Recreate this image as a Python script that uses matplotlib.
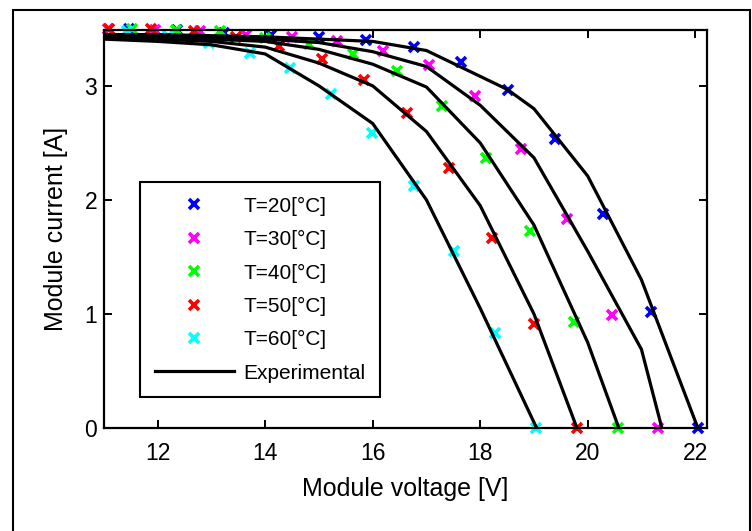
import matplotlib
matplotlib.use("Agg")
import matplotlib.pyplot as plt
from matplotlib.patches import Rectangle

plt.rcParams['font.family'] = ['Liberation Sans', 'DejaVu Sans']

# Experimental curves (voltage [V], current [A])
exp_T20_v = [11.0, 12.0, 13.0, 14.0, 15.0, 16.0, 17.0, 18.5, 19.0, 20.0, 21.0, 22.05]
exp_T20_i = [3.45, 3.45, 3.44, 3.43, 3.41, 3.39, 3.31, 2.97, 2.80, 2.21, 1.30, 0.0]
exp_T30_v = [11.0, 12.0, 13.0, 14.0, 15.0, 16.0, 17.0, 18.0, 19.0, 20.0, 21.0, 21.38]
exp_T30_i = [3.44, 3.44, 3.43, 3.41, 3.38, 3.30, 3.17, 2.83, 2.37, 1.55, 0.69, 0.0]
exp_T40_v = [11.0, 12.0, 13.0, 14.0, 15.0, 16.0, 17.0, 18.0, 19.0, 20.0, 20.58]
exp_T40_i = [3.43, 3.42, 3.41, 3.39, 3.32, 3.19, 2.99, 2.50, 1.78, 0.75, 0.0]
exp_T50_v = [11.0, 12.0, 13.0, 14.0, 15.0, 16.0, 17.0, 18.0, 19.0, 19.8]
exp_T50_i = [3.42, 3.41, 3.39, 3.34, 3.20, 3.00, 2.60, 1.95, 1.00, 0.0]
exp_T60_v = [11.0, 12.0, 13.0, 14.0, 15.0, 16.0, 17.0, 18.0, 19.05]
exp_T60_i = [3.41, 3.39, 3.36, 3.28, 3.00, 2.67, 2.00, 1.05, 0.0]

# Model points
sim_T20_v = [11.47, 12.35, 13.23, 14.11, 15.00, 15.88, 16.76, 17.64, 18.52, 19.40, 20.29, 21.17, 22.05]
sim_T20_i = [3.50, 3.49, 3.46, 3.45, 3.43, 3.40, 3.34, 3.21, 2.96, 2.53, 1.88, 1.02, 0.0]
sim_T30_v = [11.08, 11.94, 12.79, 13.64, 14.49, 15.34, 16.20, 17.05, 17.90, 18.75, 19.61, 20.46, 21.31]
sim_T30_i = [3.50, 3.49, 3.48, 3.45, 3.43, 3.39, 3.31, 3.18, 2.91, 2.45, 1.83, 0.99, 0.0]
sim_T40_v = [11.52, 12.34, 13.16, 13.99, 14.81, 15.63, 16.46, 17.28, 18.10, 18.92, 19.75, 20.57]
sim_T40_i = [3.50, 3.49, 3.48, 3.42, 3.37, 3.28, 3.13, 2.82, 2.37, 1.73, 0.93, 0.0]
sim_T50_v = [11.09, 11.88, 12.67, 13.46, 14.26, 15.05, 15.84, 16.63, 17.42, 18.22, 19.01, 19.80]
sim_T50_i = [3.50, 3.50, 3.48, 3.43, 3.35, 3.24, 3.05, 2.76, 2.28, 1.67, 0.91, 0.0]
sim_T60_v = [11.43, 12.19, 12.95, 13.71, 14.47, 15.23, 15.99, 16.76, 17.52, 18.28, 19.04]
sim_T60_i = [3.48, 3.44, 3.38, 3.29, 3.16, 2.93, 2.59, 2.12, 1.55, 0.83, 0.0]

labels = ['T=20[°C]', 'T=30[°C]', 'T=40[°C]', 'T=50[°C]', 'T=60[°C]']
colors = ['#0000ff', '#ff00ff', '#00ff00', '#ff0000', '#00ffff']
xticks = [12, 14, 16, 18, 20, 22]
yticks = [0, 1, 2, 3]

sims = [(sim_T20_v, sim_T20_i), (sim_T30_v, sim_T30_i), (sim_T40_v, sim_T40_i),
        (sim_T50_v, sim_T50_i), (sim_T60_v, sim_T60_i)]
exps = [(exp_T20_v, exp_T20_i), (exp_T30_v, exp_T30_i), (exp_T40_v, exp_T40_i),
        (exp_T50_v, exp_T50_i), (exp_T60_v, exp_T60_i)]

fig = plt.figure(figsize=(7.52, 5.31), dpi=100)
ax = fig.add_axes([104/752, 1-428/531, (707-104)/752, (428-30)/531])

handles = []
for (v, i), c, lab in zip(sims, colors, labels):
    h, = ax.plot(v, i, linestyle='none', marker='x', color=c, markersize=7,
                 markeredgewidth=2.6, label=lab, clip_on=False, zorder=2)
    handles.append(h)
for k, (v, i) in enumerate(exps):
    h, = ax.plot(v, i, color='black', linewidth=2.3, zorder=3,
                 label='Experimental' if k == 0 else None)
    if k == 0:
        handles.append(h)

ax.set_xlim(11.0, 22.22)
ax.set_ylim(0, 3.49)
ax.set_xticks(xticks)
ax.set_yticks(yticks)
ax.tick_params(direction='in', length=5.8, width=1.4, top=True, right=True,
               labelsize=16.5)
ax.tick_params(axis='x', pad=10)
ax.tick_params(axis='y', pad=5)
for s in ax.spines.values():
    s.set_linewidth(1.6)
ax.set_xlabel('Module voltage [V]', fontsize=18, labelpad=9)
ax.set_ylabel('Module current [A]', fontsize=18, labelpad=12)

leg = ax.legend(handles=handles, loc='lower left', bbox_to_anchor=(0.0597, 0.077),
                borderaxespad=0, fontsize=15, numpoints=1, handlelength=3.8,
                handletextpad=0.45, labelspacing=0.69, borderpad=0.7,
                fancybox=False, framealpha=1, edgecolor='black')
leg.get_frame().set_linewidth(1.5)

fig.patches.append(Rectangle((13/752, -0.05), (750-13)/752, 1.05-10/531,
                             transform=fig.transFigure, fill=False,
                             edgecolor='black', linewidth=1.5))

fig.savefig('out.png', dpi=100)
